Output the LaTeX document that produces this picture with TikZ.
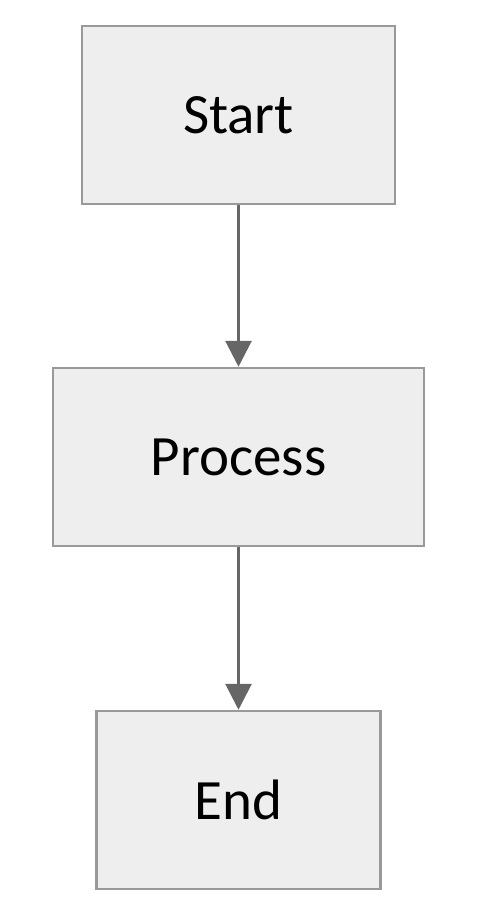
\documentclass[tikz,border=0pt]{standalone}
\usepackage{fontspec}
\setmainfont{Carlito}
\usetikzlibrary{arrows.meta}
\definecolor{boxfill}{HTML}{EEEEEE}
\definecolor{boxline}{HTML}{999999}
\definecolor{arrowcol}{HTML}{666666}
\tikzset{
  flowbox/.style={draw=boxline, fill=boxfill, line width=2.5pt, minimum height=178pt, inner sep=0pt, font=\fontsize{57}{68}\selectfont, text=black},
  flowarrow/.style={draw=arrowcol, line width=3pt, -{Triangle[length=26pt,width=26pt]}, shorten >=0pt}
}
\begin{document}
\begin{tikzpicture}[x=1pt,y=1pt]
\useasboundingbox (0,0) rectangle (477,-916);
\node[flowbox, minimum width=313pt] (start) at (238.5,-115) {Start};
\node[flowbox, minimum width=371pt] (process) at (238.5,-457) {Process};
\node[flowbox, minimum width=284pt] (end) at (238.5,-800) {End};
\draw[flowarrow] (start) -- (process);
\draw[flowarrow] (process) -- (end);
\end{tikzpicture}
\end{document}
